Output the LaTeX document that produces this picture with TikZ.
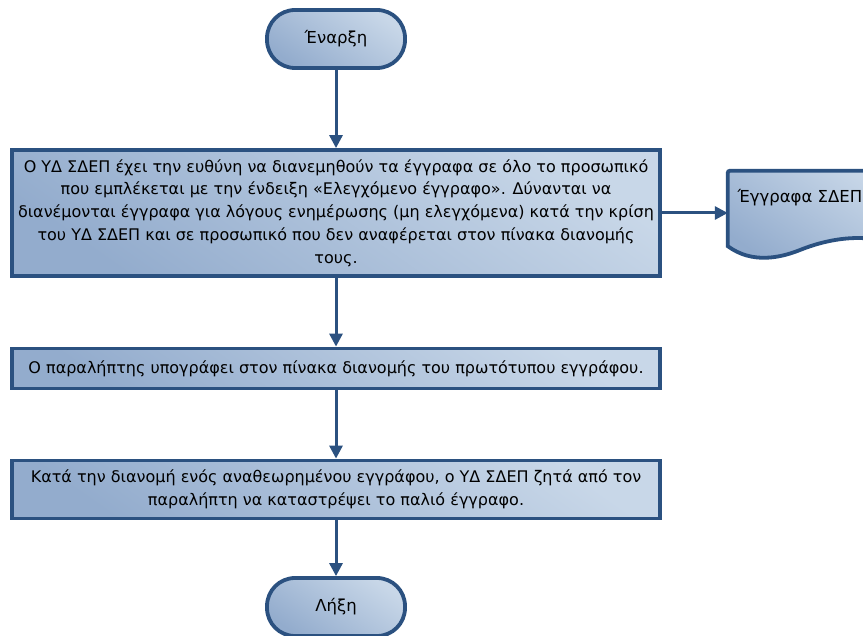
\documentclass[tikz,border=0pt]{standalone}
\usepackage{fontspec}
\setmainfont{DejaVu Sans}
\usetikzlibrary{arrows.meta}
\definecolor{edge}{HTML}{2B5180}
\definecolor{fillA}{HTML}{93ACCD}
\definecolor{fillB}{HTML}{C8D7E8}
\tikzset{
  x=1pt, y=-1pt,
  shapefill/.style={draw=edge, line width=3.8pt, shading=axis,
    bottom color=fillA, top color=fillB, shading angle=-35},
  stepbox/.style={shapefill, rectangle, minimum width=648pt,
    align=center, inner sep=0pt, font=\fontsize{16}{22.8}\selectfont},
  termbox/.style={shapefill, rectangle, rounded corners=28pt,
    minimum width=138pt, minimum height=58pt, font=\fontsize{16.5}{18}\selectfont},
  flow/.style={draw=edge, line width=3pt, -{Triangle[length=13pt,width=13pt]}},
}
\begin{document}
\begin{tikzpicture}
\useasboundingbox (0,0) rectangle (863,636);
\fill[white] (0,0) rectangle (863,636);
\clip (0,0) rectangle (863,636);

% terminators
\node[termbox] (start) at (336,39) {Έναρξη};
\node[termbox] (end) at (336,607) {Λήξη};

% process steps
\node[stepbox, minimum height=126pt] (s1) at (336,213) {Ο ΥΔ ΣΔΕΠ έχει την ευθύνη να διανεμηθούν τα έγγραφα σε όλο το προσωπικό\\
που εμπλέκεται με την ένδειξη «Ελεγχόμενο έγγραφο». Δύνανται να\\
διανέμονται έγγραφα για λόγους ενημέρωσης (μη ελεγχόμενα) κατά την κρίση\\
του ΥΔ ΣΔΕΠ και σε προσωπικό που δεν αναφέρεται στον πίνακα διανομής\\
τους.};
\node[stepbox, minimum height=40pt] (s2) at (336,368.5) {Ο παραλήπτης υπογράφει στον πίνακα διανομής του πρωτότυπου εγγράφου.};
\node[stepbox, minimum height=58pt] (s3) at (336,489.5) {Κατά την διανομή ενός αναθεωρημένου εγγράφου, ο ΥΔ ΣΔΕΠ ζητά από τον\\
παραλήπτη να καταστρέψει το παλιό έγγραφο.};

% document symbol
\node[rectangle, minimum width=172pt, minimum height=75pt, inner sep=0pt] (doc) at (814,208.5) {};
\path[shapefill, rounded corners=2pt]
  (doc.south west) -- (doc.north west) -- (doc.north east) -- (doc.south east)
  [sharp corners] .. controls (870,234) and (835,236) .. (800,250)
  .. controls (780,258) and (752,264) .. (doc.south west) -- cycle;
\node[anchor=west, font=\fontsize{16.5}{18}\selectfont] (doclabel) at (734,198) {Έγγραφα ΣΔΕΠ};

% connectors
\draw[flow] (start) -- (s1);
\draw[flow] (s1) -- (s2);
\draw[flow] (s2) -- (s3);
\draw[flow] (s3) -- (end);
\draw[flow] (s1.east) -- (s1.east -| doc.west);
\end{tikzpicture}
\end{document}
